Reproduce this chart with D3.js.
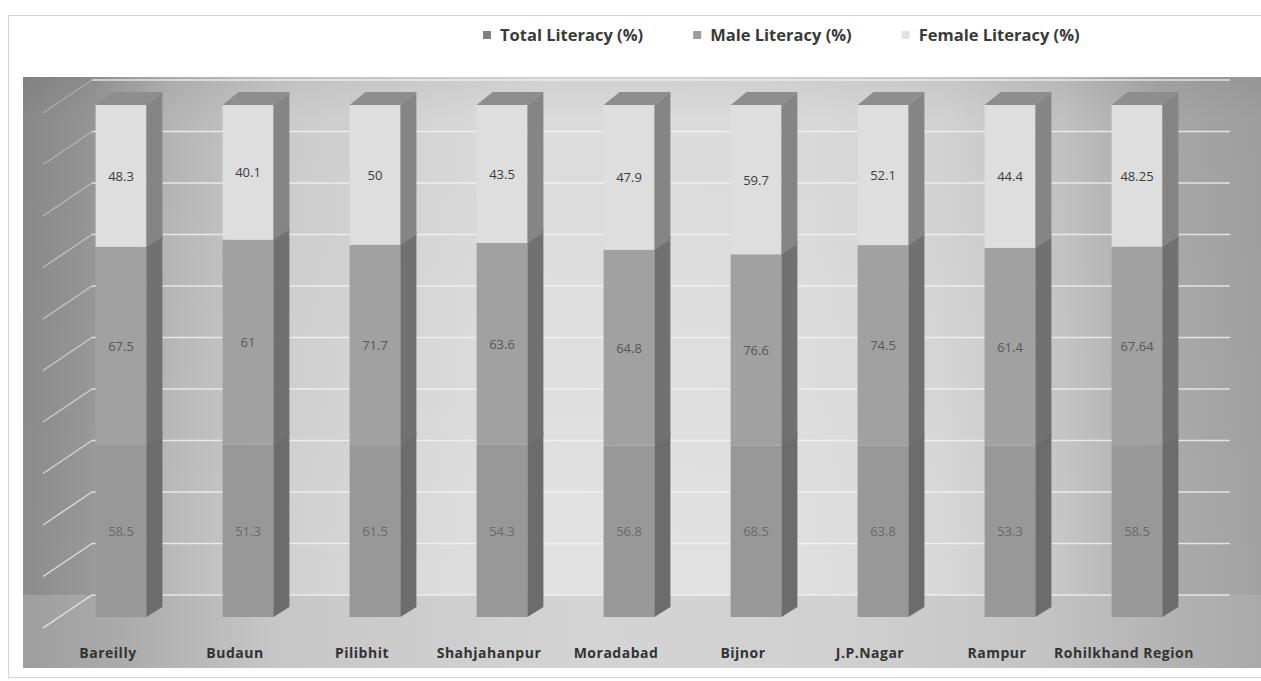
<!DOCTYPE html>
<html>
<head>
<meta charset="utf-8">
<script src="https://cdn.jsdelivr.net/npm/d3@7"></script>
<style>
  body { margin: 0; background: #fff; }
  svg { display: block; }
</style>
</head>
<body>
<svg id="chart" width="1261" height="681"></svg>
<script>
// Literacy rates (%) by district of the Rohilkhand region
const categories = ["Bareilly", "Budaun", "Pilibhit", "Shahjahanpur", "Moradabad", "Bijnor", "J.P.Nagar", "Rampur", "Rohilkhand Region"];
const totalLiteracy  = [58.5, 51.3, 61.5, 54.3, 56.8, 68.5, 63.8, 53.3, 58.5];
const maleLiteracy   = [67.5, 61, 71.7, 63.6, 64.8, 76.6, 74.5, 61.4, 67.64];
const femaleLiteracy = [48.3, 40.1, 50, 43.5, 47.9, 59.7, 52.1, 44.4, 48.25];
const seriesKeys  = ["total", "male", "female"];
const seriesNames = ["Total Literacy (%)", "Male Literacy (%)", "Female Literacy (%)"];

// ---- layout ----
const plot = { left: 23, top: 77, right: 1261, bottom: 668 };
const wall = { left: 92, right: 1230, floor: 595, top: 80 };
const depth = { dx: 16, dy: -13 };

// ---- styles ----
const frontColor = d3.scaleOrdinal(seriesKeys, ["#989898", "#a1a1a1", "#dedede"]);
const sideColor  = d3.scaleOrdinal(seriesKeys, ["#6c6c6c", "#717171", "#858585"]);
const labelColor = d3.scaleOrdinal(seriesKeys, ["#6a6a6a", "#575757", "#3c3c3c"]);
const legendColor = d3.scaleOrdinal(seriesKeys, ["#808080", "#9c9c9c", "#e2e2e2"]);
const topColor = "#8e8e8e";

const svg = d3.select("#chart");
const defs = svg.append("defs");

function hGradient(id, stops) {
  const g = defs.append("linearGradient").attr("id", id)
    .attr("x1", 0).attr("x2", 1).attr("y1", 0).attr("y2", 0);
  stops.forEach(([o, c]) => g.append("stop").attr("offset", o).attr("stop-color", c));
}
hGradient("wallFill", [
  [0, "#8c8c8c"], [0.05, "#979797"], [0.12, "#bababa"], [0.22, "#d2d2d2"],
  [0.42, "#e2e2e2"], [0.6, "#e1e1e1"], [0.74, "#d8d8d8"], [0.84, "#c6c6c6"],
  [0.92, "#acacac"], [1, "#a2a2a2"]
]);
hGradient("floorFill", [
  [0, "#9e9e9e"], [0.08, "#ababab"], [0.2, "#c6c6c6"], [0.45, "#d4d4d4"],
  [0.65, "#d1d1d1"], [0.82, "#c4c4c4"], [0.93, "#b2b2b2"], [1, "#aaaaaa"]
]);
const vShade = defs.append("linearGradient").attr("id", "topShade")
  .attr("x1", 0).attr("x2", 0).attr("y1", 0).attr("y2", 1);
vShade.append("stop").attr("offset", 0).attr("stop-color", "#000").attr("stop-opacity", 0.08);
vShade.append("stop").attr("offset", 0.08).attr("stop-color", "#000").attr("stop-opacity", 0.03);
vShade.append("stop").attr("offset", 1).attr("stop-color", "#000").attr("stop-opacity", 0);

// chart frame
svg.append("rect").attr("x", 8.5).attr("y", 15.5).attr("width", 1262).attr("height", 662)
  .attr("fill", "#fff").attr("stroke", "#d4d4d4");

// back wall + floor
svg.append("rect").attr("x", plot.left).attr("y", plot.top)
  .attr("width", plot.right - plot.left).attr("height", plot.bottom - plot.top)
  .attr("fill", "url(#wallFill)");
svg.append("rect").attr("x", plot.left).attr("y", plot.top)
  .attr("width", plot.right - plot.left).attr("height", wall.floor - plot.top)
  .attr("fill", "url(#topShade)");
svg.append("rect").attr("x", plot.left).attr("y", wall.floor)
  .attr("width", plot.right - plot.left).attr("height", plot.bottom - wall.floor)
  .attr("fill", "url(#floorFill)");

// ---- scales ----
const x = d3.scaleBand().domain(categories).range([57.5, 1200.5])
  .paddingInner(0.6).paddingOuter(0.3);
const yFront = d3.scaleLinear().domain([0, 1]).range([617, 105]);
const yBack  = d3.scaleLinear().domain([0, 1]).range([wall.floor, wall.top]);

// gridlines on the back wall
const ticks = yBack.ticks(10);
svg.append("g").selectAll("line").data(ticks).join("line")
  .attr("x1", wall.left).attr("x2", wall.right)
  .attr("y1", d => yBack(d)).attr("y2", d => yBack(d))
  .attr("stroke", "#f4f4f4").attr("stroke-width", 1.5).attr("stroke-opacity", 0.8);

// gridlines on the left side wall
svg.append("g").selectAll("line").data(ticks).join("line")
  .attr("x1", 43).attr("y1", d => yBack(d) + 33)
  .attr("x2", wall.left).attr("y2", d => yBack(d))
  .attr("stroke", "#f2f2f2").attr("stroke-width", 1.4)
  .attr("stroke-opacity", d => 0.85 - d * 0.55);

// ---- stacked 100% columns ----
const rows = categories.map((c, i) => ({
  category: c, total: totalLiteracy[i], male: maleLiteracy[i], female: femaleLiteracy[i]
}));
const layers = d3.stack().keys(seriesKeys).offset(d3.stackOffsetExpand)(rows);

const bars = svg.append("g").selectAll("g").data(rows).join("g");
bars.each(function (row, i) {
  const g = d3.select(this);
  const xl = x(row.category), xr = xl + x.bandwidth();
  layers.forEach(layer => {
    const [v0, v1] = layer[i];
    const yb = yFront(v0), yt = yFront(v1);
    g.append("rect").attr("x", xl).attr("y", yt)
      .attr("width", x.bandwidth()).attr("height", yb - yt)
      .attr("fill", frontColor(layer.key));
    g.append("polygon")
      .attr("points", [[xr, yb], [xr + depth.dx, yb + depth.dy + 3], [xr + depth.dx, yt + depth.dy], [xr, yt]].join(" "))
      .attr("fill", sideColor(layer.key));
    g.append("text")
      .attr("x", xl + x.bandwidth() / 2).attr("y", (yb + yt) / 2)
      .attr("text-anchor", "middle").attr("dominant-baseline", "central")
      .attr("font-family", "'Open Sans', sans-serif").attr("font-size", 13)
      .attr("fill", labelColor(layer.key))
      .text(String(row[layer.key]));
  });
  const yt = yFront(1);
  g.append("polygon")
    .attr("points", [[xl, yt], [xl + depth.dx, yt + depth.dy], [xr + depth.dx, yt + depth.dy], [xr, yt]].join(" "))
    .attr("fill", topColor);
});

// category labels on the floor
svg.append("g").selectAll("text").data(categories).join("text")
  .attr("x", d => x(d) + x.bandwidth() / 2 - 13).attr("y", 658)
  .attr("text-anchor", "middle")
  .attr("font-family", "'Open Sans', sans-serif").attr("font-weight", 700)
  .attr("font-size", 14).attr("letter-spacing", 0.5)
  .attr("fill", "#333")
  .text(d => d);

// legend
const legend = svg.append("g");
let lx = 483;
seriesKeys.forEach((k, i) => {
  legend.append("rect").attr("x", lx).attr("y", 31).attr("width", 8).attr("height", 8)
    .attr("fill", legendColor(k));
  const t = legend.append("text").attr("x", lx + 17).attr("y", 41)
    .attr("font-family", "'Open Sans', sans-serif").attr("font-weight", 700).attr("font-size", 16.5)
    .attr("fill", "#3a3a3a").text(seriesNames[i]);
  lx += 17 + t.node().getComputedTextLength() + 50;
});
</script>
</body>
</html>
